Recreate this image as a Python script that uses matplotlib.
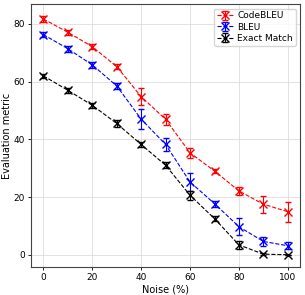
import numpy as np
import matplotlib
matplotlib.use("Agg")
import matplotlib.pyplot as plt

# ── Data ───────────────────────────────────────────────────────────────────────
noise = [0, 10, 20, 30, 40, 50, 60, 70, 80, 90, 100]

codebleu     = [81.7, 77.1, 72.1, 65.2, 54.8, 46.9, 35.3, 29.0, 22.1, 17.5, 14.9]
codebleu_err = [1.0, 0.8, 0.8, 1.0, 3.0, 2.0, 1.8, 0.8, 1.5, 3.0, 3.5]

bleu     = [76.3, 71.4, 65.8, 58.5, 47.0, 38.2, 25.2, 17.7, 9.7, 4.6, 3.1]
bleu_err = [1.0, 1.0, 1.0, 1.0, 3.5, 2.2, 3.0, 1.0, 3.0, 1.5, 1.2]

exact     = [62.0, 57.0, 51.8, 45.5, 38.2, 31.0, 20.6, 12.5, 3.4, 0.2, 0.0]
exact_err = [0.8, 0.8, 0.8, 1.3, 1.0, 1.0, 1.5, 0.8, 1.5, 0.3, 0.0]

series = [
    ("CodeBLEU", codebleu, codebleu_err, "red"),
    ("BLEU", bleu, bleu_err, "blue"),
    ("Exact Match", exact, exact_err, "black"),
]

# ── Plot ───────────────────────────────────────────────────────────────────────
fig, ax = plt.subplots(figsize=(3.05, 2.95), dpi=100)

for label, vals, err, color in series:
    ax.errorbar(noise, vals, yerr=err, color=color, linestyle="--",
                linewidth=0.8, marker="x", markersize=6, capsize=2.5,
                elinewidth=0.8, label=label)

ax.set_xlabel("Noise (%)", fontsize=7, labelpad=1.5)
ax.set_ylabel("Evaluation metric", fontsize=7, labelpad=1)
ax.set_xticks([0, 20, 40, 60, 80, 100])
ax.set_yticks([0, 20, 40, 60, 80])
ax.tick_params(labelsize=6.5, length=2.5, width=0.6, pad=2)
ax.grid(True, color="#dddddd", linewidth=0.6)
for sp in ax.spines.values():
    sp.set_color("#444444")
    sp.set_linewidth(0.8)
ax.legend(loc="upper right", fontsize=6.5, handlelength=1.8,
          borderpad=0.3, labelspacing=0.25, handletextpad=0.5)

fig.subplots_adjust(left=0.102, right=0.984, top=0.986, bottom=0.095)
fig.savefig("out.png", dpi=100)
plt.close(fig)
